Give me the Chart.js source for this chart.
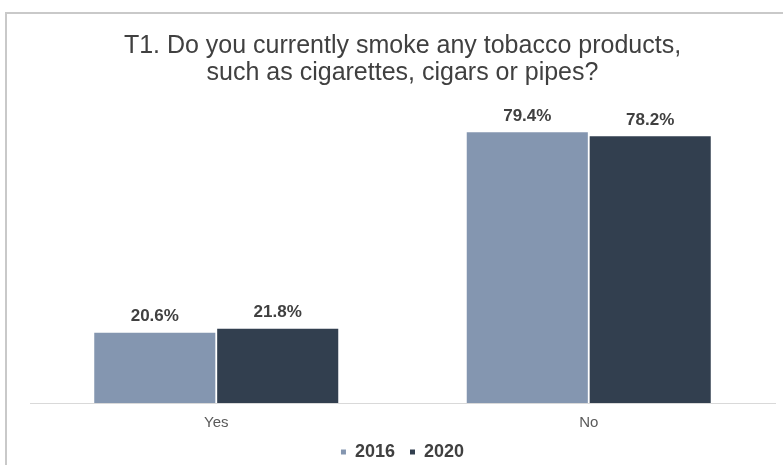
<!DOCTYPE html>
<html>
<head>
<meta charset="utf-8">
<script src="https://cdn.jsdelivr.net/npm/chart.js@4"></script>
<style>
  body { margin: 0; background: #fff; overflow: hidden; }
  #frame { position: absolute; left: 5px; top: 12px; width: 800px; height: 480px; border: 2px solid #c9c9c9; }
  #wrap { position: absolute; left: 0; top: 0; width: 783px; height: 465px; }
</style>
</head>
<body>
<div id="frame"></div>
<div id="wrap"><canvas id="myChart" width="783" height="465"></canvas></div>
<script>
const CATEGORIES = ["Yes", "No"];
const YEARS = ["2016", "2020"];
const VALUES_2016 = [20.6, 79.4];
const VALUES_2020 = [21.8, 78.2];
const COLORS = ["#8496b0", "#323f4f"];

const FONT = "'Liberation Sans', Arial, sans-serif";

// prints the percentage above each bar
const valueLabels = {
  id: "valueLabels",
  afterDatasetsDraw(chart) {
    const ctx = chart.ctx;
    ctx.save();
    ctx.font = "bold 17px " + FONT;
    ctx.fillStyle = "#404040";
    ctx.textAlign = "center";
    ctx.textBaseline = "middle";
    chart.data.datasets.forEach((ds, i) => {
      chart.getDatasetMeta(i).data.forEach((bar, j) => {
        ctx.fillText(ds.data[j].toFixed(1) + "%", bar.x, bar.y - 16);
      });
    });
    ctx.restore();
  },
};

var ctx = document.getElementById("myChart").getContext("2d");
var myChart = new Chart(ctx, {
  type: "bar",
  data: {
    labels: CATEGORIES,
    datasets: [VALUES_2016, VALUES_2020].map((vals, i) => ({
      label: YEARS[i],
      data: vals,
      backgroundColor: COLORS[i],
      barPercentage: 0.985,
      categoryPercentage: 0.66,
    })),
  },
  options: {
    responsive: false,
    animation: false,
    layout: { padding: { left: 30, right: 8, top: 20, bottom: -6 } },
    scales: {
      y: { display: false, min: 0, max: 90 },
      x: {
        // hidden tick marks still reserve tickLength, used here as label spacing
        grid: { display: false, drawTicks: true, tickLength: 14 },
        border: { display: true, color: "#d9d9d9", width: 1 },
        ticks: { color: "#595959", font: { size: 15, family: FONT, lineHeight: 0.73 }, padding: 0 },
      },
    },
    plugins: {
      title: {
        display: true,
        text: ["T1. Do you currently smoke any tobacco products,", "such as cigarettes, cigars or pipes?"],
        color: "#404040",
        font: { size: 25, weight: "normal", family: FONT, lineHeight: 1.08 },
        padding: { top: 13, bottom: 9 },
      },
      legend: {
        position: "bottom",
        labels: {
          usePointStyle: true,
          pointStyle: "rect",
          boxWidth: 5,
          boxHeight: 5,
          color: "#404040",
          font: { size: 18, weight: "bold", family: FONT },
          padding: 15,
        },
      },
      tooltip: { enabled: false },
    },
  },
  plugins: [valueLabels],
});
</script>
</body>
</html>
